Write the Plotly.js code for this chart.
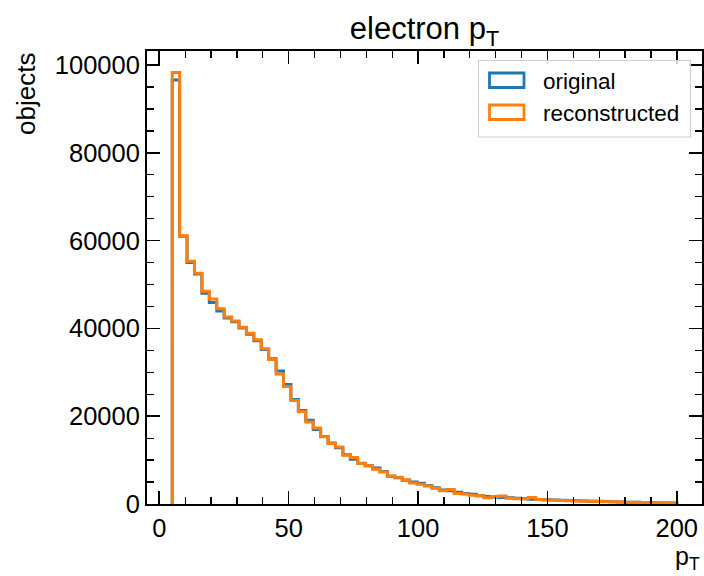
<!DOCTYPE html>
<html>
<head>
<meta charset="utf-8">
<script src="https://cdn.plot.ly/plotly-3.0.1.min.js"></script>
<style>html,body{margin:0;padding:0;background:#fff;}</style>
</head>
<body>
<div id="chart" style="width:704px;height:576px;"></div>
<script>
// Histogram binning (electron pT)
const binStart = 5;
const binEnd = 200;
const nBins = 68;

// Bin contents
const original = [
  96600, 61000, 55000, 52400, 48000, 45900, 44000, 42400, 41500, 40100,
  38700, 37200, 35200, 33100, 30300, 27200, 23800, 21300, 19100, 17000,
  15400, 13900, 12800, 11200, 10200, 9300, 8700, 8200, 7400, 6300,
  6000, 5400, 5000, 4700, 4200, 3700, 3200, 3000, 2700, 2400,
  2200, 1900, 1700, 1600, 1500, 1400, 1300, 1200, 1100, 1050,
  950, 900, 850, 800, 750, 700, 650, 600, 550, 500,
  450, 420, 400, 370, 330, 300, 270, 250
];
const reconstructed = [
  98300, 61100, 55300, 52600, 48500, 46700, 44500, 42600, 41700, 40300,
  38900, 37400, 35400, 32900, 29600, 26800, 23600, 21100, 18700, 17300,
  15300, 13800, 13000, 11100, 10600, 9200, 8700, 7900, 7300, 6400,
  6100, 5500, 4800, 4500, 4100, 3600, 3000, 3300, 2400, 2300,
  2000, 1900, 1400, 1700, 1800, 1300, 1200, 1200, 1500, 1000,
  900, 850, 800, 750, 700, 700, 600, 550, 500, 500,
  450, 400, 400, 350, 300, 300, 250, 250
];
const seriesNames = ['original', 'reconstructed'];
const seriesColors = ['#1f77b4', '#ff7f0e'];
const xTickVals = [0, 50, 100, 150, 200];
const yTickVals = [0, 20000, 40000, 60000, 80000, 100000];

const edges = [];
for (let i = 0; i <= nBins; i++) edges.push(binStart + i * (binEnd - binStart) / nBins);

function stepTrace(vals, name, color) {
  const xs = [edges[0]], ys = [0];
  for (let i = 0; i < vals.length; i++) { xs.push(edges[i]); ys.push(vals[i]); }
  xs.push(edges[vals.length]); ys.push(vals[vals.length - 1]);
  xs.push(edges[vals.length]); ys.push(0);
  return {
    type: 'scatter', mode: 'lines', x: xs, y: ys, name: name,
    line: {shape: 'hv', color: color, width: 3},
    showlegend: false, hoverinfo: 'skip'
  };
}

const traces = [
  stepTrace(original, seriesNames[0], seriesColors[0]),
  stepTrace(reconstructed, seriesNames[1], seriesColors[1])
];

const xSpan = binEnd - binStart;
const yMax = Math.max(...original, ...reconstructed) * 1.05;
const FONT = 'Liberation Sans, Arial, Helvetica, sans-serif';

// plot area in pixels
const L = 147, R = 702, T = 51, B = 504;
const px = x => (x - L) / (R - L);
const py = y => (B - y) / (B - T);

const shapes = [
  {type: 'rect', xref: 'paper', yref: 'paper', x0: px(478.5), x1: px(690.5), y0: py(137), y1: py(60.5),
   line: {color: '#d0d0d0', width: 1.2}, fillcolor: 'rgba(255,255,255,0.8)', layer: 'above'},
  {type: 'rect', xref: 'paper', yref: 'paper', x0: px(489.5), x1: px(524), y0: py(87.5), y1: py(73),
   line: {color: seriesColors[0], width: 2.8}, fillcolor: 'rgba(0,0,0,0)', layer: 'above'},
  {type: 'rect', xref: 'paper', yref: 'paper', x0: px(489.5), x1: px(524), y0: py(119.5), y1: py(105),
   line: {color: seriesColors[1], width: 2.8}, fillcolor: 'rgba(0,0,0,0)', layer: 'above'}
];

const annotations = [
  {text: seriesNames[0], xref: 'paper', yref: 'paper', x: px(541), y: py(81), xanchor: 'left', yanchor: 'middle',
   showarrow: false, font: {family: FONT, size: 22.5, color: '#000'}},
  {text: seriesNames[1], xref: 'paper', yref: 'paper', x: px(541), y: py(113), xanchor: 'left', yanchor: 'middle',
   showarrow: false, font: {family: FONT, size: 22.5, color: '#000'}},
  {text: 'p<sub>T</sub>', xref: 'paper', yref: 'paper', x: 1, y: 0, xanchor: 'right', yanchor: 'top', yshift: -36,
   showarrow: false, font: {family: FONT, size: 25, color: '#000'}},
  {text: 'objects', xref: 'paper', yref: 'paper', x: 0, y: 1, xanchor: 'center', yanchor: 'top', xshift: -121,
   textangle: -90, showarrow: false, font: {family: FONT, size: 26, color: '#000'}}
];

const axisCommon = {
  showgrid: false, zeroline: false, showline: true, linecolor: '#000', linewidth: 2,
  mirror: 'allticks', ticks: 'inside', ticklen: 13, tickwidth: 1.6, tickcolor: '#000',
  tickfont: {family: FONT, size: 25.5, color: '#000'}
};

const layout = {
  width: 704, height: 576,
  margin: {l: L, r: 704 - R, t: T, b: 576 - B, pad: 0},
  paper_bgcolor: '#fff', plot_bgcolor: '#fff',
  showlegend: false,
  title: {text: 'electron p<sub>T</sub>', x: 0.5, xref: 'paper', xanchor: 'center',
          y: 1, yref: 'paper', yanchor: 'bottom', pad: {b: 12},
          font: {family: FONT, size: 31, color: '#000'}},
  xaxis: Object.assign({}, axisCommon, {
    range: [binStart - 0.05 * xSpan, binEnd + 0.05 * xSpan],
    tickmode: 'array', tickvals: xTickVals, ticktext: xTickVals.map(String),
    minor: {dtick: 10, tick0: 0, ticks: 'inside', ticklen: 7, tickwidth: 1.3, tickcolor: '#000'}
  }),
  yaxis: Object.assign({}, axisCommon, {
    range: [0, yMax],
    tickmode: 'array', tickvals: yTickVals, ticktext: yTickVals.map(String),
    minor: {dtick: 5000, tick0: 0, ticks: 'inside', ticklen: 7, tickwidth: 1.3, tickcolor: '#000'}
  }),
  shapes: shapes,
  annotations: annotations
};

Plotly.newPlot('chart', traces, layout, {staticPlot: true, displayModeBar: false});
</script>
</body>
</html>
